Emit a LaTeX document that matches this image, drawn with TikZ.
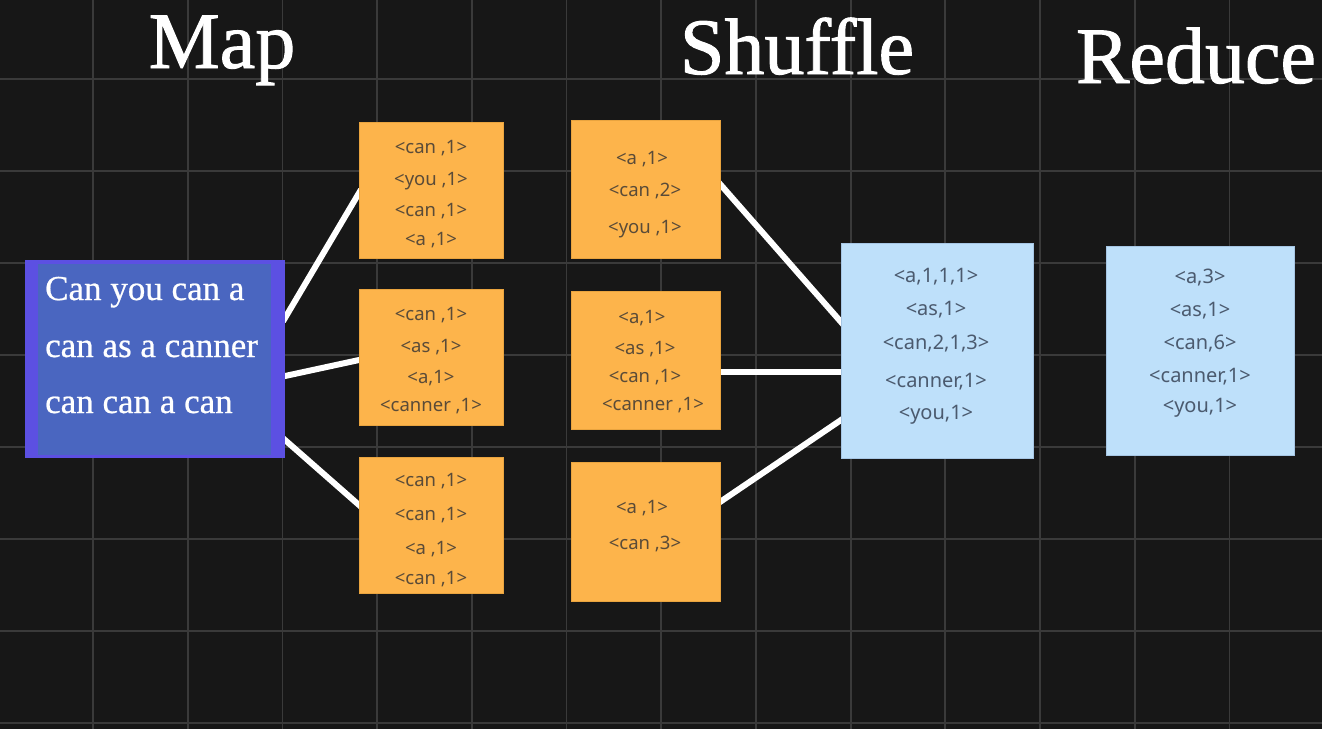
\documentclass[tikz,border=0pt]{standalone}
\usepackage{fontspec}
\setmainfont{Liberation Serif}
\newfontfamily\titlefont[FakeBold=1.2]{Liberation Serif}
\newfontfamily\inputfont[FakeBold=0.6]{Liberation Serif}
\newfontfamily\boxfont{Noto Sans}
\usetikzlibrary{calc}

\definecolor{bg}{HTML}{171717}
\definecolor{gridline}{HTML}{3A3A3A}
\definecolor{mapfill}{HTML}{4A66C0}
\definecolor{mapedge}{HTML}{5C50E2}
\definecolor{pairfill}{HTML}{FDB44B}
\definecolor{pairedge}{HTML}{E9A43F}
\definecolor{pairtext}{HTML}{5A4B38}
\definecolor{groupfill}{HTML}{BEE0FA}
\definecolor{groupedge}{HTML}{A6C6E4}
\definecolor{grouptext}{HTML}{4B5A6E}

\pgfdeclarelayer{gridlayer}
\pgfdeclarelayer{linklayer}
\pgfsetlayers{gridlayer,linklayer,main}

\begin{document}
\begin{tikzpicture}[x=1pt,y=-1pt,
  title/.style={font=\titlefont\fontsize{80}{90}\selectfont, text=white, anchor=base, inner sep=0},
  inputbox/.style={fill=mapedge, minimum width=260, minimum height=198, inner sep=0, outer sep=0},
  inputcore/.style={fill=mapfill, minimum width=233, minimum height=191, inner sep=0, outer sep=0},
  inputtext/.style={font=\inputfont\fontsize{35}{40}\selectfont, text=white, anchor=base west, inner sep=0},
  pairbox/.style={fill=pairfill, draw=pairedge, line width=0.8pt, inner sep=0, outer sep=0},
  pairtxt/.style={font=\boxfont\fontsize{18.5}{22}\selectfont, text=pairtext, anchor=base, inner sep=0},
  groupbox/.style={fill=groupfill, draw=groupedge, line width=0.8pt, inner sep=0, outer sep=0},
  grouptxt/.style={font=\boxfont\fontsize{20}{24}\selectfont, text=grouptext, anchor=base, inner sep=0},
  link/.style={draw=white, line width=6pt, shorten <=-4pt, shorten >=-4pt},
  gridrule/.style={draw=gridline, line width=1.8pt}
]
\useasboundingbox (0,0) rectangle (1322,728);

% background and grid
\begin{pgfonlayer}{gridlayer}
  \fill[bg] (-6,-6) rectangle (1328,734);
  \foreach \k in {0,...,14} \draw[gridrule] ({-1.7+94.7*\k},-6) -- ++(0,740);
  \foreach \k in {-1,...,7} \draw[gridrule] (-6,{79+92*\k}) -- ++(1334,0);
\end{pgfonlayer}

% stage titles
\node[title] (tmap) at (222,68) {Map};
\node[title] (tshuffle) at (797,74) {Shuffle};
\node[title] (treduce) at (1196,83) {Reduce};

% input text block
\node[inputbox] (input) at (155,359) {};
\node[inputcore] (inputcore) at (154.5,359.5) {};
\node[inputtext] (q1) at (45,300) {Can you can a};
\node[inputtext] (q2) at (45,357) {can as a canner};
\node[inputtext] (q3) at (45,413) {can can a can};

% map output
\node[pairbox, minimum width=144, minimum height=136] (m1) at (431,190) {};
\node[pairbox, minimum width=144, minimum height=136] (m2) at (431,357) {};
\node[pairbox, minimum width=144, minimum height=136] (m3) at (431,525) {};
\foreach \y/\t [count=\i] in {153/{<can ,1>},185/{<you ,1>},216/{<can ,1>},245/{<a ,1>}}
  \node[pairtxt] (m1t\i) at (431,\y) {\t};
\foreach \y/\t [count=\i] in {320/{<can ,1>},352/{<as ,1>},383/{<a,1>},411/{<canner ,1>}}
  \node[pairtxt] (m2t\i) at (431,\y) {\t};
\foreach \y/\t [count=\i] in {486/{<can ,1>},520/{<can ,1>},554/{<a ,1>},584/{<can ,1>}}
  \node[pairtxt] (m3t\i) at (431,\y) {\t};

% shuffle / combine output
\node[pairbox, minimum width=149, minimum height=138] (s1) at (645.5,189) {};
\node[pairbox, minimum width=149, minimum height=138] (s2) at (645.5,360) {};
\node[pairbox, minimum width=149, minimum height=139] (s3) at (645.5,531.5) {};
\foreach \x/\y/\t [count=\i] in {642/164/{<a ,1>},645/196/{<can ,2>},645/233/{<you ,1>}}
  \node[pairtxt] (s1t\i) at (\x,\y) {\t};
\foreach \x/\y/\t [count=\i] in {642/323/{<a,1>},645/354/{<as ,1>},645/382/{<can ,1>},653/410/{<canner ,1>}}
  \node[pairtxt] (s2t\i) at (\x,\y) {\t};
\foreach \x/\y/\t [count=\i] in {642/513/{<a ,1>},645/549/{<can ,3>}}
  \node[pairtxt] (s3t\i) at (\x,\y) {\t};

% grouped keys
\node[groupbox, minimum width=192, minimum height=215] (ga) at (937,350.5) {};
\foreach \y/\t [count=\i] in {282/{<a,1,1,1>},315/{<as,1>},349/{<can,2,1,3>},387/{<canner,1>},419/{<you,1>}}
  \node[grouptxt] (gat\i) at (936,\y) {\t};

% reduce result
\node[groupbox, minimum width=188, minimum height=209] (rb) at (1200,350.5) {};
\foreach \y/\t [count=\i] in {283/{<a,3>},316/{<as,1>},349/{<can,6>},382/{<canner,1>},412/{<you,1>}}
  \node[grouptxt] (rbt\i) at (1200,\y) {\t};

% connectors
\begin{pgfonlayer}{linklayer}
  \draw[link] ([yshift=41pt]input.east) -- ([yshift=-3pt]m1.west);
  \draw[link] ([yshift=-17pt]input.east) -- ([yshift=-3pt]m2.west);
  \draw[link] ([yshift=-81pt]input.east) -- ([yshift=20pt]m3.west);
  \draw[link] ([yshift=5pt]s1.east) -- ([yshift=28.5pt]ga.west);
  \draw[link] ([yshift=-12pt]s2.east) -- ([yshift=-21.5pt]ga.west);
  \draw[link] ([yshift=29.5pt]s3.east) -- ([yshift=-69.5pt]ga.west);
\end{pgfonlayer}
\end{tikzpicture}
\end{document}
